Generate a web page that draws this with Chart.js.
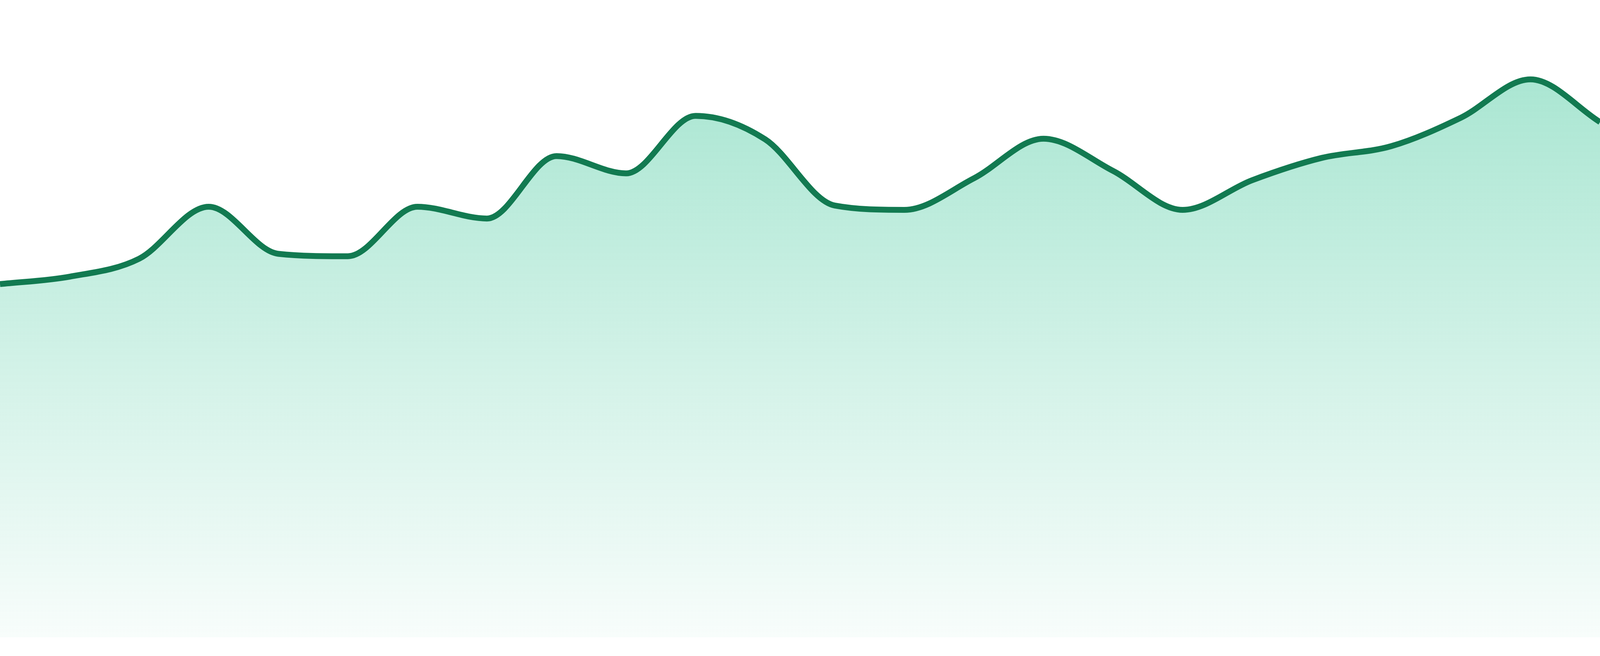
<!DOCTYPE html>
<html>
<head>
<meta charset="utf-8">
<title>Trend</title>
<script src="https://cdn.jsdelivr.net/npm/chart.js@4/dist/chart.umd.min.js"></script>
<style>
  html, body { margin: 0; padding: 0; background: #fff; overflow: hidden; }
  .wrap { position: relative; width: 100vw; height: 100vh; }
</style>
</head>
<body>
<div class="wrap"><canvas id="trend"></canvas></div>
<script>
// 24 daily samples, no axes shown
const labels = [
  "1", "2", "3", "4", "5", "6", "7", "8", "9", "10", "11", "12",
  "13", "14", "15", "16", "17", "18", "19", "20", "21", "22", "23", "24",
];
const values = [
  57.1, 58.3, 61.2, 69.6, 62.0, 61.6, 69.6, 67.7, 77.8, 75.0, 84.3, 80.5,
  69.8, 69.1, 74.2, 80.6, 75.4, 69.1, 73.9, 77.5, 79.4, 84.0, 90.2, 83.3,
];
const yMin = 0;
const yMax = 100;

const lineColor = "#127a51";

// everything was measured on a 1680px tall picture; scale to the real viewport
const s = window.innerHeight / 1680;

function fillGradient(context) {
  const { chart } = context;
  if (!chart.chartArea) return "rgba(16,185,129,0.2)";
  const g = chart.ctx.createLinearGradient(0, 0, 0, chart.height);
  g.addColorStop(0, "rgba(16,185,129,0.4)");
  g.addColorStop(1, "rgba(16,185,129,0.02)");
  return g;
}

new Chart(document.getElementById("trend"), {
  type: "line",
  data: {
    labels,
    datasets: [
      {
        data: values,
        borderColor: lineColor,
        backgroundColor: fillGradient,
        borderWidth: 15 * s,
        cubicInterpolationMode: "monotone",
        pointRadius: 0,
        fill: "start",
      },
    ],
  },
  options: {
    responsive: true,
    maintainAspectRatio: false,
    animation: false,
    layout: { padding: { top: 48 * s, bottom: 48 * s, left: 0, right: 0 } },
    plugins: { legend: { display: false }, tooltip: { enabled: false } },
    scales: {
      x: { display: false, offset: false },
      y: { display: false, min: yMin, max: yMax },
    },
  },
});
</script>
</body>
</html>
